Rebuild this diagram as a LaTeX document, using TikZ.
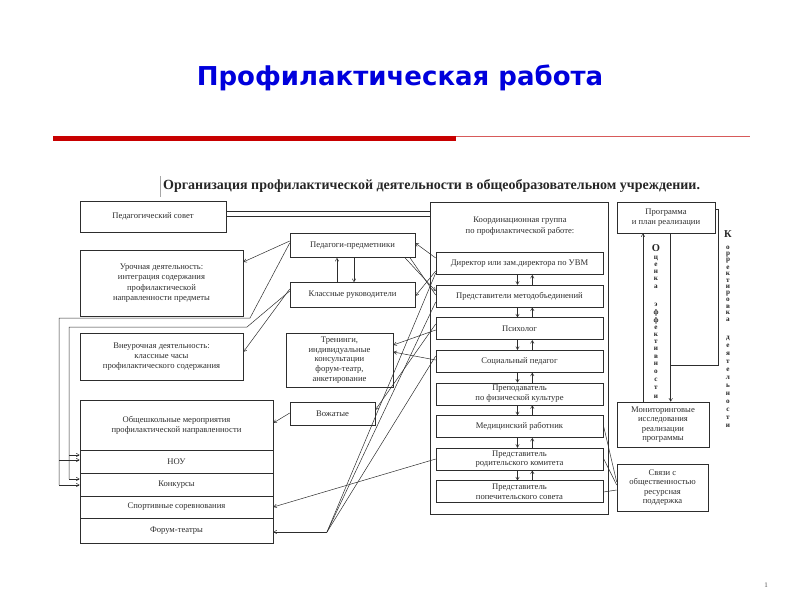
\documentclass[tikz,border=0pt]{standalone}
\usepackage{fontspec}
\setmainfont{Liberation Serif}
\newfontfamily\titlefont{DejaVu Sans}
\usetikzlibrary{arrows.meta}
\definecolor{titleblue}{RGB}{0,0,220}
\definecolor{redthick}{RGB}{200,0,0}
\definecolor{redthin}{RGB}{215,90,90}
\definecolor{ink}{RGB}{45,45,45}
\begin{document}
\begin{tikzpicture}[x=1pt,y=-1pt,
  box/.style={draw=ink, line width=0.6pt, inner sep=1pt, align=center, text=ink, font=\fontsize{8.6}{10.2}\selectfont},
  tight/.style={font=\fontsize{8.6}{9.6}\selectfont},
  conn/.style={draw=ink, line width=0.5pt},
  arr/.style={conn, -{Straight Barb[length=3pt,width=3.5pt]}},
  vl/.style={inner sep=0, text=black!85, font=\fontsize{7.2}{7.5}\selectfont\bfseries},
  vlbig/.style={inner sep=0, text=black!85, font=\fontsize{10.5}{11}\selectfont\bfseries},
]
\useasboundingbox (0,0) rectangle (800,600);

% title and rule
\node[font=\titlefont\bfseries\fontsize{26}{30}\selectfont, text=titleblue] (title) at (400,78) {Профилактическая работа};
\draw[line width=5pt, redthick] (53,138) -- (456,138);
\draw[line width=0.8pt, redthin] (456,136.5) -- (750,136.5);

% heading
\node[font=\fontsize{14}{16}\selectfont\bfseries, text=black!85, anchor=west, inner sep=0] (head) at (163,186) {Организация профилактической деятельности в общеобразовательном учреждении.};
\draw[black!35, line width=0.4pt] (160,176) -- (160,197);

% left column
\node[box, minimum width=146pt, minimum height=31pt] (ps) at (153,216.5) {Педагогический совет};
\node[box, minimum width=163pt, minimum height=66pt] (ur) at (161.5,283) {Урочная деятельность:\\интеграция содержания\\профилактической\\направленности предметы};
\node[box, minimum width=163pt, minimum height=47pt] (vn) at (161.5,356.5) {Внеурочная деятельность:\\классные часы\\профилактического содержания};
\node[box, minimum width=193pt, minimum height=50pt] (ob) at (176.5,425) {Общешкольные мероприятия\\профилактической направленности};
\node[box, minimum width=193pt, minimum height=23pt] (nou) at (176.5,461.5) {НОУ};
\node[box, minimum width=193pt, minimum height=23pt] (kon) at (176.5,484.5) {Конкурсы};
\node[box, minimum width=193pt, minimum height=22pt] (sp) at (176.5,507) {\raisebox{-3pt}{Спортивные соревнования}};
\node[box, minimum width=193pt, minimum height=25pt] (fo) at (176.5,530.5) {\raisebox{-4pt}{Форум-театры}};

% middle column
\node[box, minimum width=125pt, minimum height=24.5pt] (pp) at (352.5,245.25) {Педагоги-предметники};
\node[box, minimum width=125pt, minimum height=25pt] (kr) at (352.5,295) {Классные руководители};
\node[box, tight, minimum width=107pt, minimum height=54pt] (tr) at (339.5,360) {Тренинги,\\индивидуальные\\консультации\\форум-театр,\\анкетирование};
\node[box, minimum width=85pt, minimum height=23pt] (vz) at (332.5,413.5) {Вожатые};

% coordination group
\node[box, minimum width=178pt, minimum height=312pt] (cg) at (519,358) {};
\node[inner sep=0, align=center, text=ink, font=\fontsize{8.6}{11.5}\selectfont] (cgt) at (520,226) {Координационная группа\\по профилактической работе:};
\node[box, minimum width=167pt, minimum height=22pt] (d1) at (519.5,263.5) {Директор или зам.директора по УВМ};
\node[box, minimum width=167pt, minimum height=22pt] (d2) at (519.5,296.1) {Представители методобъединений};
\node[box, minimum width=167pt, minimum height=22pt] (d3) at (519.5,328.7) {Психолог};
\node[box, minimum width=167pt, minimum height=22pt] (d4) at (519.5,361.3) {Социальный педагог};
\node[box, tight, minimum width=167pt, minimum height=22pt] (d5) at (519.5,393.9) {Преподаватель\\по физической культуре};
\node[box, minimum width=167pt, minimum height=22pt] (d6) at (519.5,426.5) {Медицинский работник};
\node[box, tight, minimum width=167pt, minimum height=22pt] (d7) at (519.5,459.1) {Представитель\\родительского комитета};
\node[box, tight, minimum width=167pt, minimum height=22pt] (d8) at (519.5,491.7) {Представитель\\попечительского совета};
\foreach \a/\b in {d1/d2,d2/d3,d3/d4,d4/d5,d5/d6,d6/d7,d7/d8}{
  \draw[arr] ([xshift=-2pt]\a.south) -- ([xshift=-2pt]\b.north);
  \draw[arr] ([xshift=12.8pt]\b.north) -- ([xshift=12.8pt]\a.south);
}

% right column
\node[box, tight, minimum width=98pt, minimum height=31pt] (pr) at (666,217.5) {Программа\\и план реализации};
\node[box, tight, minimum width=92pt, minimum height=45pt] (mon) at (663,424.5) {Мониторинговые\\исследования\\реализации\\программы};
\node[box, tight, minimum width=91pt, minimum height=47pt] (sv) at (662.5,487.5) {Связи с\\общественностью\\ресурсная\\поддержка};
\draw[arr] (mon.north -| 643,0) -- (pr.south -| 643,0);
\draw[arr] (pr.south -| 670.7,0) -- (mon.north -| 670.7,0);
\coordinate (k1) at (718,209);
\coordinate (k2) at (718,365);
\coordinate (k3) at (670.7,365);
\draw[conn] (pr.east |- k1) -- (k1) -- (k2) -- (k3);

% vertical words
\node[vlbig] (oc0) at (656,248) {О};
\foreach \c/\yy [count=\i] in {ц/258,е/265,н/272,к/279,а/286.5,э/305,ф/313,ф/321,е/328,к/335,т/342,и/349,в/357,н/364,о/372,с/380,т/388,и/396.5}{
  \node[vl] (oc\i) at (656,\yy) {\c};
}
\node[vlbig] (kd0) at (728,234) {К};
\foreach \c/\yy [count=\i] in {о/248,р/254.5,р/261,е/267.5,к/274,т/280.5,и/287,р/293.5,о/300,в/306.5,к/313,а/319.5,д/338,е/346,я/354,т/362,е/370,л/378,ь/386,н/394,о/402,с/410,т/418,и/426}{
  \node[vl] (kd\i) at (728,\yy) {\c};
}

% connectors, left part
\coordinate (a1) at (250,318);
\coordinate (a2) at (59,318);
\coordinate (a3) at (59,485);
\coordinate (a4) at (59,460);
\coordinate (b1) at (247,327);
\coordinate (b2) at (69,327);
\coordinate (b3) at (69,479);
\coordinate (b4) at (69,455);
\draw[arr] (pp.west |- 0,241) -- (ur.east |- 0,262);
\draw[conn] (pp.west |- 0,243) -- (a1) -- (a2) -- (a3);
\draw[arr] (a3) -- (kon.west |- a3);
\draw[arr] (a4) -- (nou.west |- a4);
\draw[arr] (kr.west |- 0,289) -- (vn.east |- 0,352);
\draw[conn] (kr.west |- 0,291) -- (b1) -- (b2) -- (b3);
\draw[arr] (b3) -- (kon.west |- b3);
\draw[arr] (b4) -- (nou.west |- b4);
\draw[conn] (ps.east |- 0,211) -- (cg.west |- 0,211);
\draw[conn] (ps.east |- 0,216) -- (cg.west |- 0,216);
\draw[arr] (kr.north -| 337,0) -- (pp.south -| 337,0);
\draw[arr] (pp.south -| 354,0) -- (kr.north -| 354,0);
\draw[arr] (vz.west |- 0,413) -- (ob.east |- 0,423);

% connectors from coordination group
\draw[arr] (d1.west |- 0,258) -- (pp.east |- 0,243);
\draw[arr] (d1.west |- 0,271) -- (kr.east |- 0,296);
\draw[arr] (pp.south -| 405,0) -- (d2.west |- 0,291);
\draw[conn] (pp.south -| 410,0) -- (d2.west |- 0,295);
\draw[arr] (d3.west |- 0,324) -- (vz.east |- 0,410);
\draw[arr] (d3.west |- 0,330) -- (tr.east |- 0,345);
\draw[arr] (d4.west |- 0,360) -- (tr.east |- 0,352);
\coordinate (fj) at (327,532);
\draw[conn] (d1.west |- 0,273) -- (fj);
\draw[conn] (d2.west |- 0,302) -- (fj);
\draw[conn] (d4.west |- 0,356) -- (fj);
\draw[arr] (fj) -- (fo.east |- fj);
\draw[arr] (d7.west |- 0,459) -- (sp.east |- 0,507);
\draw[conn] (d6.east |- 0,425) -- (sv.west |- 0,482);
\draw[conn] (d7.east |- 0,458) -- (sv.west |- 0,485);
\draw[conn] (d8.east |- 0,492) -- (sv.west |- 0,490);

% slide number
\node[inner sep=0, text=black!70, font=\fontsize{7}{8}\selectfont] (pnum) at (766,585) {1};
\end{tikzpicture}
\end{document}
